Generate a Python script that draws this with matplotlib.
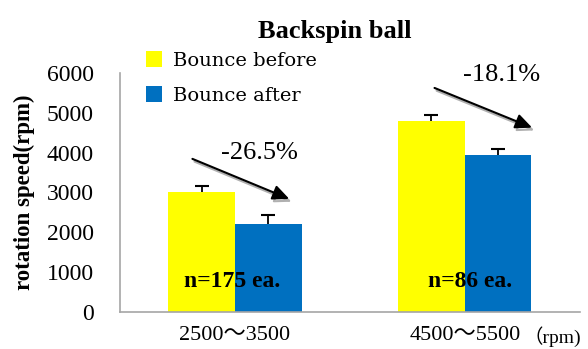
import numpy as np
import matplotlib.pyplot as plt
import matplotlib.patheffects as pe

plt.rcParams['font.family'] = ['Liberation Serif', 'Noto Sans CJK JP', 'DejaVu Sans']

# spin ranges and mean rotation speed (rpm)
categories = ['2500～3500', '4500～5500']
before = [3020, 4790]
after = [2220, 3930]
before_err = [140, 150]
after_err = [215, 160]
changes = ['-26.5%', '-18.1%']
counts = ['n=175 ea.', 'n=86 ea.']

fig = plt.figure(figsize=(5.88, 3.49), dpi=100)
ax = fig.add_axes([0.204, 0.106, 0.782, 0.685])

x = np.arange(len(categories))
w = 0.29
ax.bar(x - w / 2, before, w, color='#ffff00', label='Bounce before')
ax.bar(x + w / 2, after, w, color='#0070c0', label='Bounce after')

# upper error bars only, with a cap on top
for xs, vals, errs in [(x - w / 2, before, before_err), (x + w / 2, after, after_err)]:
    tops = np.array(vals) + np.array(errs)
    ax.vlines(xs, vals, tops, color='black', lw=1.3)
    ax.plot(xs, tops, ls='none', marker='_', ms=10, mew=1.5, color='black')

ax.set_xlim(-0.5, 1.5)
ax.set_ylim(0, 6000)
ax.set_yticks(np.arange(0, 6001, 1000))
ax.set_xticks(x)
ax.set_xticklabels(categories, fontsize=16)
ax.tick_params(axis='both', length=0)
ax.tick_params(axis='x', pad=10, labelsize=16)
ax.tick_params(axis='y', pad=19, labelsize=17)
for s in ['top', 'right']:
    ax.spines[s].set_visible(False)
for s in ['left', 'bottom']:
    ax.spines[s].set_color('#a6a6a6')
    ax.spines[s].set_linewidth(1.2)

ax.set_ylabel('rotation speed(rpm)', fontsize=16.5, fontweight='bold', labelpad=8)
fig.text(0.57, 0.91, 'Backspin ball', fontsize=19, fontweight='bold', ha='center', va='center')

# arrows with shadow
arrows = [((-0.196, 3870), (0.248, 2810)), ((0.857, 5650), (1.304, 4600))]
label_pos = [(0.105, 4000), (1.16, 5950)]
for (start, end), txt, (tx, ty) in zip(arrows, changes, label_pos):
    ax.annotate('', xy=end, xytext=start,
                arrowprops=dict(arrowstyle='-|>,head_length=1.0,head_width=0.45', color='black', lw=1.5,
                                path_effects=[pe.SimpleLineShadow(offset=(1.5, -2), shadow_color='#b0b0b0', alpha=1),
                                              pe.Normal()]),
                annotation_clip=False)
    ax.text(tx, ty, txt, fontsize=19, ha='center', va='center')

for xi, c in zip([-0.01, 1.022], counts):
    ax.text(xi, 760, c, fontsize=17, fontweight='bold', ha='center', va='center')

fig.text(0.988, 0.035, '（rpm)', fontsize=14, ha='right', va='center')

ax.legend(loc='upper left', bbox_to_anchor=(0.04, 1.125), frameon=False,
          prop={'family': 'DejaVu Serif', 'size': 14},
          handlelength=0.8, handleheight=0.9, handletextpad=0.6, labelspacing=0.85, borderaxespad=0)

fig.savefig('out.png', dpi=100)
